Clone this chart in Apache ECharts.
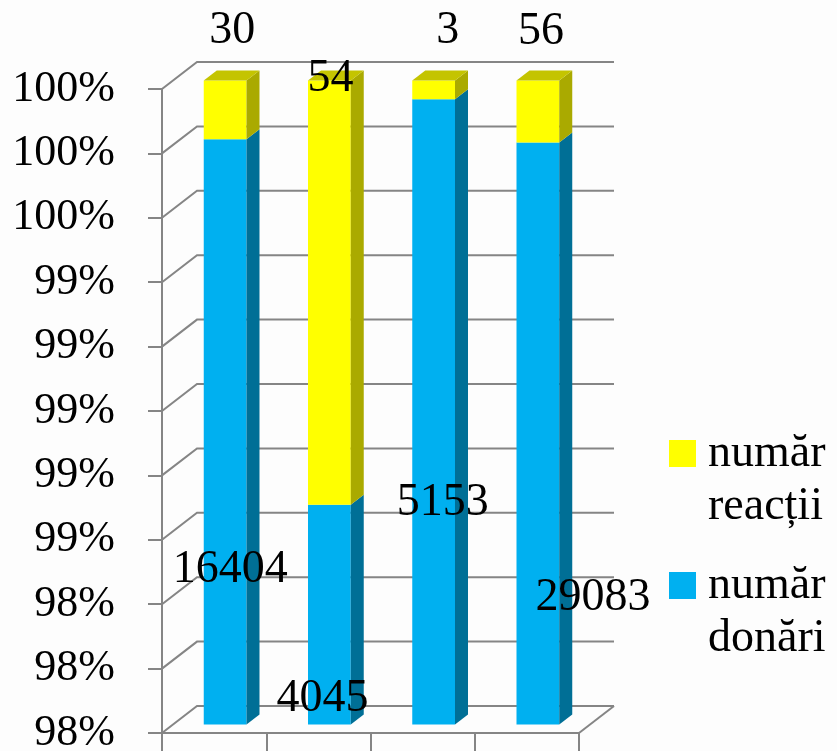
<!DOCTYPE html>
<html><head><meta charset="utf-8">
<script src="https://cdn.jsdelivr.net/npm/echarts@6/dist/echarts.min.js"></script>
<style>html,body{margin:0;padding:0;background:#fdfdfd}#c{width:837px;height:751px}</style>
</head><body><div id="c"></div>
<script>
// ---- data ----
const categories = ['1', '2', '3', '4'];
const donari = [16404, 4045, 5153, 29083];
const reactii = [30, 54, 3, 56];
const seriesNames = ['număr donări', 'număr reacții'];
const yMin = 98, yMax = 100, yStep = 0.2;

// ---- style ----
const FONT = 'Liberation Serif';
const LINE = '#858585';
const wallDepth = [35, -27];
const barShift = [11, -8.5];
const barDepth = [13, -10];
const barRatio = 0.41;
const blueColors = { front: '#00B0F0', side: '#006F96', top: '#0090C4' };
const yellowColors = { front: '#FFFF00', side: '#AAAA00', top: '#C4C400' };
const labelOffsetsDonari = [[5, 138], [-7, 84], [9, 91], [55, 164]];
const labelOffsetsReactii = [[7, -79], [1, -214], [14, -59], [3, -80]];
// legend icon: 27x27 square at top-left of a 34x80 box
const legendIcon = 'path://M0,0L27,0L27,27L0,27Z M34,80L34,80';

// ---- derived ----
const totals = donari.map((d, i) => d + reactii[i]);
const pctDonari = donari.map((d, i) => 100 * d / totals[i]);
const blueData = categories.map((c, i) => [i, yMin, pctDonari[i], donari[i]]);
const yellowData = categories.map((c, i) => [i, pctDonari[i], 100, reactii[i]]);
const tickData = [];
for (let k = 0; yMin + k * yStep <= yMax + 1e-9; k++) tickData.push([0, +(yMin + k * yStep).toFixed(4)]);

function barRenderer(colors, offsets, withTop) {
  return function (params, api) {
    const i = api.value(0);
    const lo = Math.max(api.value(1), yMin), hi = api.value(2);
    const c = api.coord([i, lo]);
    const t = api.coord([i, hi]);
    const band = api.size([1, 0])[0];
    const w = band * barRatio;
    const x0 = c[0] + barShift[0] - w / 2, x1 = x0 + w;
    const yb = c[1] + barShift[1], yt = t[1] + barShift[1];
    const dx = barDepth[0], dy = barDepth[1];
    const children = [
      { type: 'rect', shape: { x: x0, y: yt, width: w, height: yb - yt }, style: { fill: colors.front } },
      { type: 'polygon', shape: { points: [[x1, yb], [x1, yt], [x1 + dx, yt + dy], [x1 + dx, yb + dy]] }, style: { fill: colors.side } }
    ];
    if (withTop) children.push({ type: 'polygon', shape: { points: [[x0, yt], [x1, yt], [x1 + dx, yt + dy], [x0 + dx, yt + dy]] }, style: { fill: colors.top } });
    const off = offsets[params.dataIndex];
    children.push({ type: 'text', z2: 100, style: { text: String(api.value(3)), x: (x0 + x1) / 2 + off[0], y: (yb + yt) / 2 + off[1], align: 'center', verticalAlign: 'middle', font: '46px "' + FONT + '"', fill: '#000' } });
    return { type: 'group', children };
  };
}

function wallRenderer(params, api) {
  const cs = params.coordSys;
  const y = api.coord([0, api.value(1)])[1];
  const left = cs.x, right = cs.x + cs.width;
  const dx = wallDepth[0], dy = wallDepth[1];
  const children = [{ type: 'polyline', shape: { points: [[left, y], [left + dx, y + dy], [right + dx, y + dy]] }, style: { stroke: LINE, lineWidth: 2, fill: null } }];
  if (params.dataIndex === 0) children.push({ type: 'line', shape: { x1: right, y1: y, x2: right + dx, y2: y + dy }, style: { stroke: LINE, lineWidth: 2 } });
  return { type: 'group', children };
}

const chart = echarts.init(document.getElementById('c'), null, { renderer: 'canvas' });
chart.setOption({
  backgroundColor: '#fdfdfd',
  animation: false,
  grid: { left: 162, top: 89, width: 417, height: 644, outerBoundsMode: 'none', containLabel: false },
  xAxis: {
    type: 'category', data: categories, boundaryGap: true,
    axisLine: { show: true, lineStyle: { color: LINE, width: 2 } },
    axisTick: { show: true, length: 18, lineStyle: { color: LINE, width: 2 } },
    axisLabel: { show: false }, splitLine: { show: false }
  },
  yAxis: {
    type: 'value', min: yMin, max: yMax, interval: yStep,
    axisLine: { show: true, lineStyle: { color: LINE, width: 2 } },
    axisTick: { show: true, length: 14, lineStyle: { color: LINE, width: 2 } },
    splitLine: { show: false },
    axisLabel: { margin: 47, fontFamily: FONT, fontSize: 44, color: '#000', formatter: v => Math.round(v) + '%' }
  },
  legend: {
    orient: 'vertical', left: 669, top: 427, padding: 0, itemWidth: 34, itemHeight: 80, itemGap: 26,
    icon: legendIcon, symbolKeepAspect: false, data: [seriesNames[1], seriesNames[0]], selectedMode: false,
    formatter: n => n.replace(' ', '\n'),
    textStyle: { fontFamily: FONT, fontSize: 46, color: '#000', lineHeight: 53 }
  },
  series: [
    { type: 'custom', name: 'wall', silent: true, z: 1, data: tickData, encode: { x: 0, y: 1 }, renderItem: wallRenderer },
    { type: 'custom', name: seriesNames[0], z: 2, data: blueData, encode: { x: 0, y: [1, 2] }, itemStyle: { color: blueColors.front }, renderItem: barRenderer(blueColors, labelOffsetsDonari, false) },
    { type: 'custom', name: seriesNames[1], z: 3, data: yellowData, encode: { x: 0, y: [1, 2] }, itemStyle: { color: yellowColors.front }, renderItem: barRenderer(yellowColors, labelOffsetsReactii, true) }
  ]
});
</script></body></html>
